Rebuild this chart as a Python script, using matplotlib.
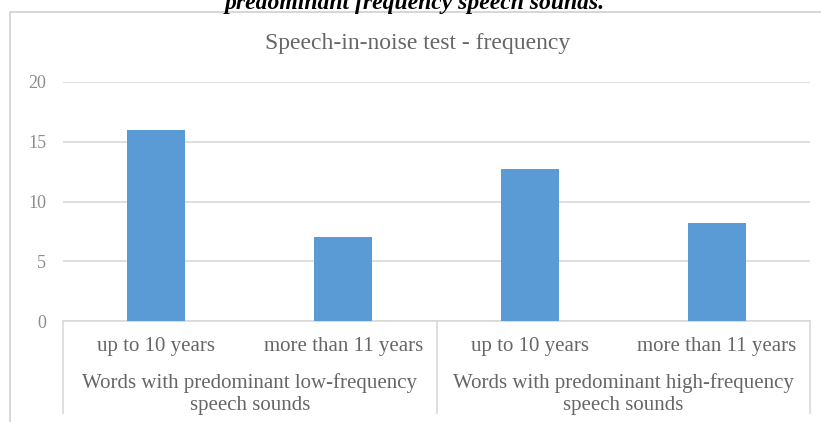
import matplotlib.pyplot as plt
from matplotlib.patches import Rectangle
from matplotlib.transforms import blended_transform_factory

plt.rcParams['font.family'] = ['Liberation Serif', 'DejaVu Serif']

ages = ['up to 10 years', 'more than 11 years', 'up to 10 years', 'more than 11 years']
groups = ['Words with predominant low-frequency\nspeech sounds',
          'Words with predominant high-frequency\nspeech sounds']
values = [16, 7, 12.7, 8.2]
yticks = [0, 5, 10, 15, 20]

W, H = 821, 422
fig = plt.figure(figsize=(W / 100, H / 100), dpi=100)

# chart frame (extends past the right/bottom edges of the crop)
fig.patches.append(Rectangle((10 / W, -0.1), 1.0, (H - 12) / H + 0.1,
                             transform=fig.transFigure, fill=False,
                             edgecolor='#d0d0d0', linewidth=1.2))

# cut-off caption from the page above
fig.text(415 / W, 1 - 9 / H, 'predominant frequency speech sounds.',
         ha='center', va='baseline', fontsize=17, fontweight='bold',
         fontstyle='italic', color='black')

ax = fig.add_axes([63 / W, (H - 321) / H, (810 - 63) / W, (321 - 82) / H])
x = range(len(values))
ax.bar(x, values, width=0.31, color='#5b9bd5', zorder=3)

ax.set_xlim(-0.5, 3.5)
ax.set_ylim(0, 20)
ax.set_yticks(yticks)
ax.set_yticklabels([str(t) for t in yticks], fontsize=13, color='#8c8c8c')
ax.tick_params(axis='y', length=0, pad=12)
ax.set_xticks([])
ax.grid(axis='y', color='#d9d9d9', linewidth=1.2, zorder=0)
for s in ['top', 'right', 'left']:
    ax.spines[s].set_visible(False)
ax.spines['bottom'].set_color('#d9d9d9')
ax.spines['bottom'].set_linewidth(1.2)

trans = blended_transform_factory(ax.transData, ax.transAxes)
for i, lab in enumerate(ages):
    ax.text(i, -26 / 239, lab, transform=trans, ha='center', va='center',
            fontsize=15, color='#666666')
for g, lab in enumerate(groups):
    ax.text(g * 2 + 0.5, -73 / 239, lab, transform=trans, ha='center',
            va='center', fontsize=15, color='#666666', linespacing=1.22)
for xb in [-0.5, 1.5, 3.5]:
    ax.plot([xb, xb], [0, -92 / 239], transform=trans, color='#d9d9d9',
            linewidth=1.2, clip_on=False)

fig.text(418 / W, 1 - 43 / H, 'Speech-in-noise test - frequency',
         ha='center', va='center', fontsize=17, color='#666666')

fig.savefig('out.png', dpi=100)
